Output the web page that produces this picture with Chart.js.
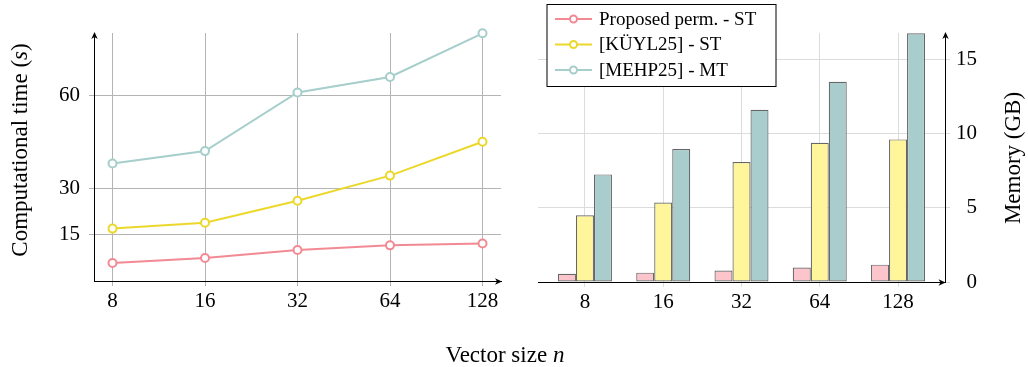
<!DOCTYPE html>
<html>
<head>
<meta charset="utf-8">
<script src="https://cdn.jsdelivr.net/npm/chart.js@4.4.1/dist/chart.umd.min.js"></script>
<style>
  body { margin: 0; background: #fff; width: 1028px; height: 367px; overflow: hidden; position: relative; font-family: "Liberation Serif", serif; }
  #left { position: absolute; left: 0; top: 0; }
  #right { position: absolute; left: 520px; top: 0; }
  .t { position: absolute; font-size: 23px; color: #000; text-align: center; white-space: nowrap; width: 300px; height: 30px; line-height: 30px; }
  .rot { transform: rotate(-90deg); }
</style>
</head>
<body>
<canvas id="left" width="520" height="367"></canvas>
<canvas id="right" width="508" height="367"></canvas>
<div class="t rot" style="left:-130px; top:135px;">Computational time (<i>s</i>)</div>
<div class="t rot" style="left:863px; top:143px;">Memory (GB)</div>
<div class="t" style="left:355px; top:340px;">Vector size <i>n</i></div>
<script>
// vector sizes on the x axis
var sizes = [8, 16, 32, 64, 128];
var seriesNames = ['Proposed perm. - ST', '[KÜYL25] - ST', '[MEHP25] - MT'];

// computational time (s)
var timeProposed = [5.8, 7.4, 10.0, 11.5, 12.1];
var timeKuyl = [16.9, 18.8, 25.9, 34.0, 44.9];
var timeMehp = [37.9, 41.9, 60.8, 65.8, 79.9];
var timeTicks = [15, 30, 60];

// memory (GB)
var memProposed = [0.56, 0.63, 0.77, 0.97, 1.17];
var memKuyl = [4.5, 5.36, 8.1, 9.39, 9.62];
var memMehp = [7.26, 8.97, 11.62, 13.51, 16.78];
var memTicks = [0, 5, 10, 15];

var lineColors = ['#f38a93', '#ebd82b', '#a6cecb'];
var barFills = ['#fcc4cb', '#fff59b', '#a9cdcc'];
var tickFont = { family: '"Liberation Serif", serif', size: 21 };

// small pgfplots style arrow heads at the axis ends
function arrowHead(ctx, x, y, up) {
  ctx.save();
  ctx.translate(x, y);
  if (up) ctx.rotate(-Math.PI / 2);
  ctx.beginPath();
  ctx.moveTo(0, 0);
  ctx.lineTo(-7, -3.2);
  ctx.lineTo(-5, 0);
  ctx.lineTo(-7, 3.2);
  ctx.closePath();
  ctx.fillStyle = '#000';
  ctx.fill();
  ctx.restore();
}

var leftArrows = {
  id: 'leftArrows',
  afterDraw: function(chart) {
    var a = chart.chartArea;
    arrowHead(chart.ctx, a.left + 0.5, a.top - 1, true);
    arrowHead(chart.ctx, a.right + 1, a.bottom + 0.5, false);
  }
};

var rightArrows = {
  id: 'rightArrows',
  afterDraw: function(chart) {
    var a = chart.chartArea;
    arrowHead(chart.ctx, a.right + 0.5, a.top - 1, true);
    arrowHead(chart.ctx, a.right + 0.5, a.bottom + 0.5, false);
  }
};

var legendBox = {
  id: 'legendBox',
  afterDraw: function(chart) {
    var ctx = chart.ctx;
    ctx.save();
    ctx.fillStyle = '#fff';
    ctx.fillRect(27, 4.5, 229, 82);
    ctx.strokeStyle = '#000';
    ctx.lineWidth = 1;
    ctx.strokeRect(27, 4.5, 229, 82);
    seriesNames.forEach(function(name, k) {
      var y = 19 + k * 25.5;
      ctx.strokeStyle = lineColors[k];
      ctx.lineWidth = 2;
      ctx.beginPath(); ctx.moveTo(35, y); ctx.lineTo(72, y); ctx.stroke();
      ctx.beginPath(); ctx.arc(53.5, y, 3.5, 0, Math.PI * 2);
      ctx.fillStyle = '#fff'; ctx.fill(); ctx.stroke();
      ctx.fillStyle = '#000';
      ctx.font = '19px "Liberation Serif"';
      ctx.textBaseline = 'middle';
      ctx.fillText(name, 79, y + 1);
    });
    ctx.restore();
  }
};

function xy(vals) {
  return vals.map(function(v, i) { return { x: i, y: v }; });
}

// left: computational time
new Chart(document.getElementById('left'), {
  type: 'line',
  data: {
    datasets: [timeProposed, timeKuyl, timeMehp].map(function(vals, k) {
      return {
        label: seriesNames[k],
        data: xy(vals),
        borderColor: lineColors[k],
        borderWidth: 2,
        pointRadius: 4,
        pointBorderWidth: 2,
        pointBackgroundColor: '#fff',
        pointBorderColor: lineColors[k],
        tension: 0,
        clip: false
      };
    })
  },
  options: {
    responsive: false,
    animation: false,
    layout: { padding: { top: 33, right: 19, left: 0, bottom: 0 } },
    plugins: { legend: { display: false }, tooltip: { enabled: false } },
    scales: {
      x: {
        type: 'linear', min: -0.2, max: 4.2,
        afterBuildTicks: function(s) { s.ticks = sizes.map(function(_, i) { return { value: i }; }); },
        afterFit: function(s) { s.height = 86; },
        ticks: { callback: function(v) { return sizes[v]; }, font: tickFont, color: '#000', padding: 3, maxRotation: 0 },
        grid: { color: '#b4b4b4', tickLength: 5 },
        border: { color: '#000', width: 1 }
      },
      y: {
        min: 0, max: 80,
        afterBuildTicks: function(s) { s.ticks = timeTicks.map(function(v) { return { value: v }; }); },
        afterFit: function(s) { s.width = 94; },
        ticks: { font: tickFont, color: '#000', padding: 9 },
        grid: { color: '#b4b4b4', tickLength: 5 },
        border: { color: '#000', width: 1 }
      }
    }
  },
  plugins: [leftArrows]
});

// right: memory
new Chart(document.getElementById('right'), {
  type: 'bar',
  data: {
    datasets: [memProposed, memKuyl, memMehp].map(function(vals, k) {
      return {
        label: seriesNames[k],
        data: xy(vals),
        backgroundColor: barFills[k],
        borderColor: '#666666',
        borderWidth: 1.2,
        borderSkipped: false,
        categoryPercentage: 0.69,
        barPercentage: 1.0
      };
    })
  },
  options: {
    responsive: false,
    animation: false,
    layout: { padding: { top: 33, right: 51, left: 18, bottom: 0 } },
    plugins: { legend: { display: false }, tooltip: { enabled: false } },
    scales: {
      x: {
        type: 'linear', min: -0.6, max: 4.6, offset: false,
        afterBuildTicks: function(s) { s.ticks = sizes.map(function(_, i) { return { value: i }; }); },
        afterFit: function(s) { s.height = 85; },
        ticks: { callback: function(v) { return sizes[v]; }, font: tickFont, color: '#000', padding: 3, maxRotation: 0 },
        grid: { color: '#dcdcdc', tickLength: 5, offset: false },
        border: { color: '#000', width: 1 }
      },
      y: {
        position: 'right',
        min: 0, max: 16.8,
        afterBuildTicks: function(s) { s.ticks = memTicks.map(function(v) { return { value: v }; }); },
        afterFit: function(s) { s.width = 32; },
        ticks: { font: tickFont, color: '#000', padding: 7, crossAlign: 'far' },
        grid: { color: '#dcdcdc', tickLength: 5 },
        border: { color: '#000', width: 1 }
      }
    }
  },
  plugins: [rightArrows, legendBox]
});
</script>
</body>
</html>
